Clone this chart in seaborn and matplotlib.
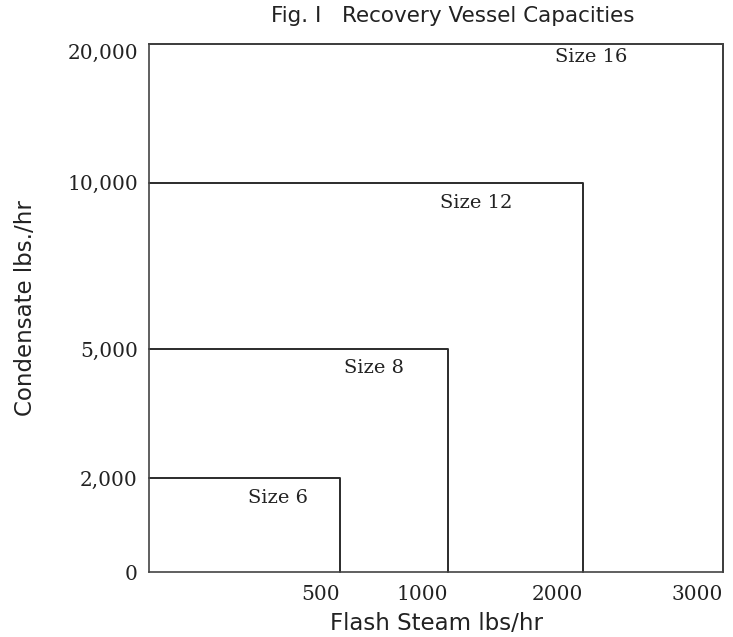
import numpy as np
import pandas as pd
import seaborn as sns
import matplotlib.pyplot as plt

# vessel sizes: flash steam (x) and condensate (y) capacities
sizes = ["Size 6", "Size 8", "Size 12", "Size 16"]
flash_steam = [500, 1000, 2000, 3000]
condensate = [2000, 5000, 10000, 20000]

x_ticks = [500, 1000, 2000, 3000]
x_labels = ["500", "1000", "2000", "3000"]
y_ticks = [0, 2000, 5000, 10000, 20000]
y_labels = ["0", "2,000", "5,000", "10,000", "20,000"]

# the original chart is drawn on an uneven scale
x_stops = [0, 500, 1000, 2000, 3000]
x_frac = [0, 0.333, 0.521, 0.756, 1.0]
y_stops = [0, 2000, 5000, 10000, 20000]
y_frac = [0, 0.178, 0.422, 0.737, 1.0]

# label offsets (pixels) from each box's top-right corner
label_offsets = [(-62, -20), (-74, -19), (-107, -20), (-132, -13)]

rows = []
for s, w, h in zip(sizes, flash_steam, condensate):
    rows += [(s, 0, h), (s, w, h), (s, w, 0)]
df = pd.DataFrame(rows, columns=["size", "flash", "cond"])

sns.set_style("white")
plt.rcParams['font.family'] = ['DejaVu Sans']

fig = plt.figure(figsize=(7.33, 6.37), dpi=100)
ax = fig.add_axes([0.2033, 0.1020, 0.7831, 0.8289])

line_col = "#2b2b2b"
sns.lineplot(data=df, x="flash", y="cond", units="size", estimator=None,
             sort=False, color=line_col, linewidth=1.4, ax=ax, clip_on=False)

ax.set_xscale('function', functions=(lambda v: np.interp(v, x_stops, x_frac),
                                     lambda f: np.interp(f, x_frac, x_stops)))
ax.set_yscale('function', functions=(lambda v: np.interp(v, y_stops, y_frac),
                                     lambda f: np.interp(f, y_frac, y_stops)))
ax.set_xlim(0, 3000)
ax.set_ylim(0, 20000)

ax.set_xticks(x_ticks)
ax.set_xticklabels(x_labels, family="DejaVu Serif", fontsize=14.5, color="#222222", ha="right")
ax.set_yticks(y_ticks)
ax.set_yticklabels(y_labels, family="DejaVu Serif", fontsize=14.5, color="#222222")
ax.get_yticklabels()[-1].set_va("top")
ax.tick_params(axis="both", length=0)
ax.tick_params(axis="x", pad=9)
ax.tick_params(axis="y", pad=8)
ax.minorticks_off()

for sp in ax.spines.values():
    sp.set_visible(True)
    sp.set_color("#444444")
    sp.set_linewidth(1.2)

for s, w, h, off in zip(sizes, flash_steam, condensate, label_offsets):
    ax.annotate(s, xy=(w, h), xytext=off, textcoords="offset pixels",
                ha="center", va="center", family="DejaVu Serif",
                fontsize=14, color="#222222")

ax.set_xlabel("Flash Steam lbs/hr", fontsize=16.5, color="#222222", labelpad=6)
ax.set_ylabel("Condensate lbs./hr", fontsize=16.5, color="#222222", labelpad=22)
ax.set_title("Fig. I   Recovery Vessel Capacities", fontsize=15.5, color="#222222",
             x=0.53, pad=16)

fig.savefig("out.png", dpi=100)
